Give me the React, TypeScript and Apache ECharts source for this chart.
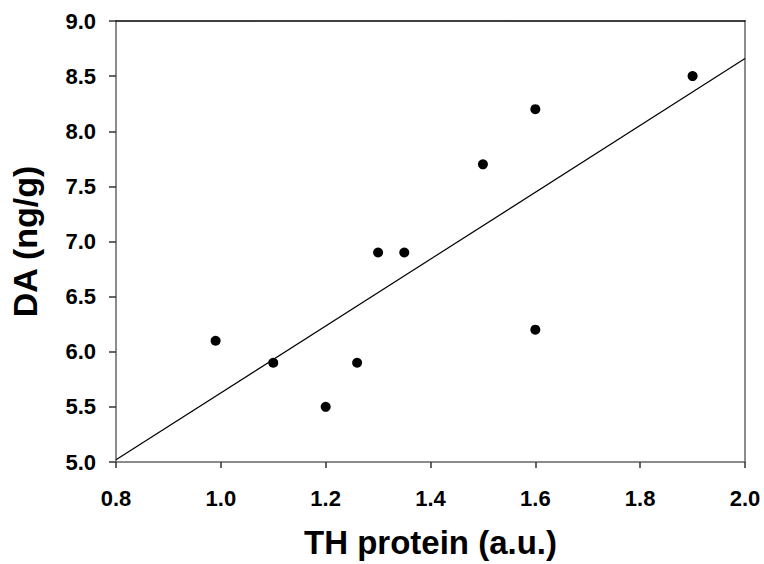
import React, { useEffect, useRef } from "react";
import * as echarts from "echarts";

const thProtein = [0.99, 1.1, 1.2, 1.26, 1.3, 1.35, 1.5, 1.6, 1.6, 1.9];
const daLevel = [6.1, 5.9, 5.5, 5.9, 6.9, 6.9, 7.7, 8.2, 6.2, 8.5];
const fitX = [0.8, 2.0];
const fitY = [5.02, 8.66];

export default function App() {
  const ref = useRef<HTMLDivElement>(null);
  useEffect(() => {
    if (!ref.current) return;
    const chart = echarts.init(ref.current, null, { renderer: "svg" });
    const font = "'Liberation Sans', Arial, sans-serif";
    const axisGrey = "#666";
    chart.setOption({
      animation: false,
      backgroundColor: "#fff",
      grid: { left: 113, top: 21, width: 632, height: 442, containLabel: false },
      xAxis: [
        {
          type: "value",
          min: 0.8,
          max: 2.0,
          interval: 0.2,
          position: "bottom",
          name: "TH protein (a.u.)",
          nameLocation: "middle",
          nameGap: 64,
          nameTextStyle: { fontFamily: font, fontWeight: "bold", fontSize: 33, color: "#000" },
          axisLine: { show: true, onZero: false, lineStyle: { color: axisGrey, width: 1.5 } },
          axisTick: { show: true, inside: false, length: 6, lineStyle: { color: "#333", width: 1.5 } },
          axisLabel: {
            margin: 25,
            fontFamily: font,
            fontWeight: "bold",
            fontSize: 22,
            color: "#000",
            formatter: (v: number) => v.toFixed(1),
          },
          splitLine: { show: false },
        },
        {
          type: "value",
          min: 0.8,
          max: 2.0,
          position: "top",
          axisLine: { show: true, onZero: false, lineStyle: { color: "#000", width: 1.5 } },
          axisTick: { show: false },
          axisLabel: { show: false },
          splitLine: { show: false },
        },
      ],
      yAxis: [
        {
          type: "value",
          min: 5.0,
          max: 9.0,
          interval: 0.5,
          position: "left",
          name: "DA (ng/g)",
          nameLocation: "middle",
          nameGap: 74,
          nameTextStyle: { fontFamily: font, fontWeight: "bold", fontSize: 34, color: "#000" },
          axisLine: { show: true, onZero: false, lineStyle: { color: axisGrey, width: 1.5 } },
          axisTick: { show: true, inside: false, length: 7, lineStyle: { color: "#333", width: 1.5 } },
          axisLabel: {
            margin: 20,
            fontFamily: font,
            fontWeight: "bold",
            fontSize: 22,
            color: "#000",
            formatter: (v: number) => v.toFixed(1),
          },
          splitLine: { show: false },
        },
        {
          type: "value",
          min: 5.0,
          max: 9.0,
          position: "right",
          axisLine: { show: true, onZero: false, lineStyle: { color: axisGrey, width: 1.5 } },
          axisTick: { show: false },
          axisLabel: { show: false },
          splitLine: { show: false },
        },
      ],
      series: [
        {
          type: "line",
          data: fitX.map((x, i) => [x, fitY[i]]),
          showSymbol: false,
          symbol: "none",
          lineStyle: { color: "#000", width: 1.2 },
          z: 2,
        },
        {
          type: "scatter",
          data: thProtein.map((x, i) => [x, daLevel[i]]),
          symbol: "circle",
          symbolSize: 10,
          itemStyle: { color: "#000", opacity: 1 },
          z: 3,
        },
      ],
    });
    return () => chart.dispose();
  }, []);
  return (
    <div
      ref={ref}
      style={{ position: "fixed", left: 0, top: 0, width: 764, height: 564, background: "#fff" }}
    />
  );
}
